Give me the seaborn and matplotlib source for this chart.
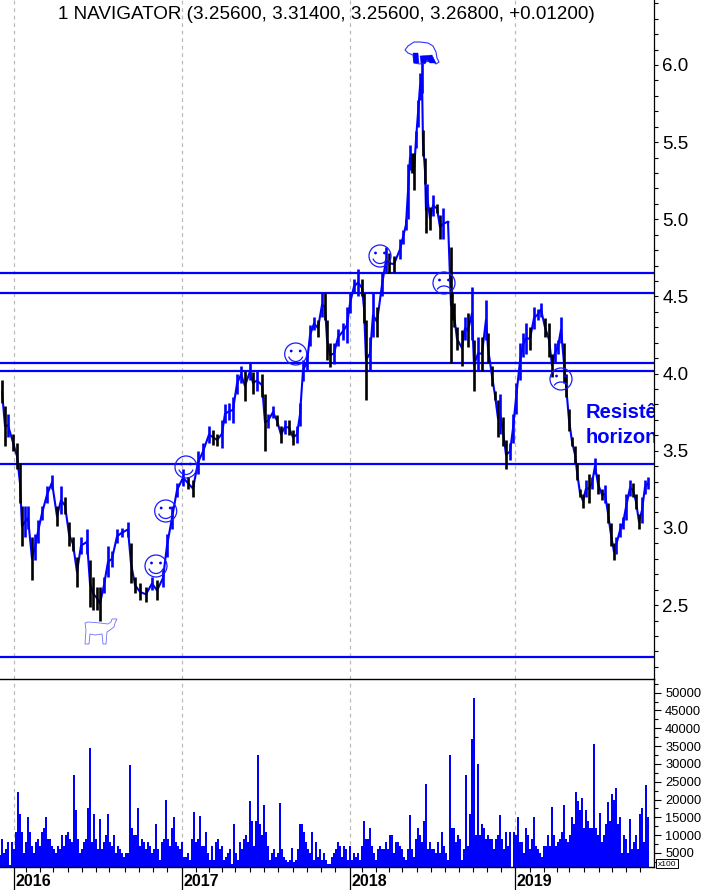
import matplotlib
matplotlib.use('Agg')
import matplotlib.pyplot as plt
import numpy as np
import pandas as pd
import seaborn as sns
from matplotlib.patches import Arc, Circle, Polygon, Rectangle
from matplotlib.transforms import Affine2D

# price bars, session = column of the chart's time scale
session = [2, 5, 8, 13, 17, 20, 22, 25, 28, 32, 35, 38, 42, 47, 52, 57, 61, 65, 69, 73,
           77, 81, 87, 90, 93, 97, 100, 104, 108, 112, 117, 122, 128, 131, 135, 140, 146, 152, 157, 163,
           167, 172, 177, 183, 188, 193, 198, 203, 209, 213, 217, 222, 225, 229, 233, 237, 241, 245, 250, 253,
           257, 262, 265, 268, 273, 277, 281, 285, 289, 293, 297, 300, 303, 307, 310, 314, 318, 322, 325, 327,
           330, 334, 338, 343, 347, 350, 354, 358, 362, 364, 366, 370, 373, 377, 382, 386, 389, 394, 400, 403,
           406, 408, 410, 412, 414, 416, 418, 420, 422, 423, 425, 426, 427, 430, 433, 437, 440, 443, 448, 451,
           452, 454, 457, 462, 465, 468, 472, 474, 478, 482, 486, 488, 492, 495, 498, 500, 503, 506, 510, 513,
           516, 520, 523, 526, 530, 534, 538, 541, 545, 549, 552, 555, 558, 561, 564, 566, 569, 572, 575, 577,
           580, 583, 586, 589, 592, 595, 598, 602, 605, 608, 611, 614, 616, 620, 623, 626, 630, 633, 636, 639,
           642, 645, 648]
price_high = [3.96, 3.79, 3.74, 3.61, 3.55, 3.42, 3.14, 3.14, 3.14, 2.94, 2.96, 3.05, 3.14, 3.27, 3.34, 3.14, 3.27, 3.20, 3.04, 2.94,
              2.81, 2.94, 2.99, 2.79, 2.68, 2.62, 2.62, 2.68, 2.88, 2.85, 2.99, 3.00, 3.04, 2.90, 2.68, 2.64, 2.62, 2.68, 2.66, 2.73,
              2.96, 3.14, 3.29, 3.38, 3.33, 3.31, 3.50, 3.55, 3.66, 3.635, 3.61, 3.70, 3.80, 3.81, 3.85, 4.00, 4.05, 4.02, 4.07, 4.01,
              4.02, 4.00, 3.87, 3.74, 3.79, 3.73, 3.66, 3.70, 3.70, 3.635, 3.66, 3.81, 4.09, 4.13, 4.315, 4.37, 4.35, 4.52, 4.52, 4.35,
              4.20, 4.20, 4.29, 4.33, 4.43, 4.52, 4.61, 4.68, 4.61, 4.52, 4.35, 4.24, 4.52, 4.43, 4.65, 4.82, 4.78, 4.76, 4.87, 4.93,
              5.00, 5.36, 5.48, 5.43, 5.43, 5.57, 5.77, 5.95, 6.01, 5.58, 5.40, 5.21, 5.23, 5.08, 5.16, 5.10, 5.03, 5.07, 4.99, 4.82,
              4.52, 4.46, 4.30, 4.28, 4.37, 4.39, 4.56, 4.22, 4.24, 4.24, 4.48, 4.26, 4.05, 3.89, 3.83, 3.87, 3.72, 3.57, 3.55, 3.74,
              3.94, 4.20, 4.26, 4.33, 4.30, 4.43, 4.42, 4.46, 4.36, 4.33, 4.13, 4.20, 4.22, 4.37, 4.20, 4.00, 3.77, 3.59, 3.53, 3.42,
              3.25, 3.22, 3.31, 3.35, 3.33, 3.45, 3.35, 3.25, 3.28, 3.16, 3.03, 2.90, 2.94, 3.03, 3.07, 3.22, 3.31, 3.29, 3.22, 3.09,
              3.20, 3.31, 3.33]
price_low = [3.81, 3.53, 3.59, 3.50, 3.38, 3.16, 2.88, 2.94, 2.99, 2.66, 2.79, 2.90, 3.05, 3.16, 3.25, 3.01, 3.09, 3.09, 2.88, 2.85,
             2.62, 2.83, 2.83, 2.49, 2.47, 2.47, 2.40, 2.58, 2.68, 2.75, 2.90, 2.94, 2.94, 2.64, 2.58, 2.53, 2.52, 2.60, 2.53, 2.62,
             2.81, 2.99, 3.20, 3.27, 3.25, 3.20, 3.35, 3.44, 3.55, 3.54, 3.53, 3.52, 3.68, 3.70, 3.68, 3.87, 3.94, 3.82, 3.96, 3.87,
             3.89, 3.85, 3.50, 3.65, 3.71, 3.66, 3.55, 3.61, 3.60, 3.54, 3.55, 3.66, 3.95, 4.02, 4.18, 4.28, 4.24, 4.37, 4.35, 4.09,
             4.04, 4.06, 4.18, 4.22, 4.20, 4.39, 4.52, 4.50, 4.50, 4.33, 3.83, 4.02, 4.24, 4.24, 4.50, 4.65, 4.65, 4.66, 4.74, 4.84,
             4.93, 5.00, 5.32, 5.30, 5.19, 5.46, 5.60, 5.77, 5.82, 5.41, 5.23, 4.91, 5.08, 4.93, 5.02, 5.04, 4.87, 4.87, 4.98, 4.07,
             4.35, 4.30, 4.15, 4.05, 4.22, 4.17, 4.22, 3.89, 4.02, 4.02, 4.22, 4.07, 3.92, 3.83, 3.59, 3.61, 3.53, 3.38, 3.44, 3.55,
             3.74, 3.96, 4.11, 4.13, 4.15, 4.29, 4.35, 4.37, 4.24, 4.11, 3.98, 4.07, 4.13, 4.20, 3.94, 3.85, 3.63, 3.53, 3.42, 3.31,
             3.20, 3.13, 3.20, 3.16, 3.25, 3.35, 3.22, 3.18, 3.16, 3.03, 2.88, 2.79, 2.83, 2.94, 2.99, 3.05, 3.21, 3.20, 3.12, 2.99,
             3.03, 3.22, 3.25]

# volume in thousands, one value per two columns
volume = [4.5, 9, 5, 6, 8, 1.5, 8, 6, 11, 22, 16, 11, 5, 8, 15, 11, 7, 5, 8, 9, 7, 11, 12, 15, 9,
          9, 7, 6, 5, 7, 6, 10, 7, 10, 11, 9, 8, 27, 17, 9, 5, 6, 8, 9, 17.5, 34.4, 8, 16, 9, 6,
          14.5, 6, 8, 10, 16, 8, 7, 10, 5, 7, 6, 5, 4, 5, 5, 29.7, 12, 10, 10, 17.5, 7, 9, 8, 6, 8,
          7, 5, 6, 13, 6, 3, 8, 9, 20, 9, 7, 12, 15, 8, 7, 6, 8, 4, 4, 5, 3, 9, 16.5, 8, 9,
          15.5, 7, 7, 11, 5, 3, 7, 3, 8, 9, 6, 7, 3, 4, 5, 6, 2, 13, 5, 3, 8, 6, 9, 10, 8,
          19.5, 14, 7, 14, 32.4, 13, 10, 18.5, 11, 7, 3, 5, 6, 4, 5, 19, 6, 4, 3, 2.5, 3, 6.5, 2.5, 3, 6,
          13, 13, 11, 8, 6, 5, 11, 3, 8, 4, 6, 3, 5, 3, 2, 2, 4, 5, 6, 8, 7, 4, 7, 6, 3,
          7, 3, 5, 4, 5, 3, 7, 14, 9, 9, 12, 7, 5, 3, 6, 7, 6, 6, 8, 6, 10, 10, 5, 8, 8,
          7, 6, 4, 3, 6, 15.8, 6, 4, 9, 12, 10, 8, 14, 24.5, 6, 8, 6, 6, 5, 8, 5, 11, 7, 5, 3,
          32.4, 12, 12, 8, 10, 9, 3, 6, 27, 7, 16, 37, 48.6, 10, 30, 10, 13, 12, 9, 10, 9, 9, 6, 9, 10,
          15.8, 9, 6, 11, 7, 11, 1, 11, 10, 15, 8, 8, 5, 12, 10, 6, 9, 15, 7, 6, 5, 4, 7, 7, 10,
          7, 17.8, 10, 7, 8, 9, 11, 18.5, 9, 8, 10, 15, 13, 22, 19.5, 17, 20.3, 12, 17, 14, 12, 12, 35.5, 12, 10,
          16.3, 8, 10, 13, 19.3, 14, 21.5, 20, 23.2, 13, 15, 5, 10, 9, 5, 14.5, 6, 8, 10, 6, 16, 17.5, 8, 24.2, 15]

levels = [4.655, 4.525, 4.07, 4.015, 3.415, 2.165]
year_labels = ['2016', '2017', '2018', '2019']
year_ticks = [13.5, 181.5, 349.5, 515]
month_ticks = [26, 40, 53, 68, 82, 96, 109, 125, 139, 153, 167,
               196, 209, 222, 235, 250, 264, 278, 293, 307, 321, 335,
               362, 376, 389, 402, 417, 431, 445, 459, 473, 487, 501,
               530, 544, 557, 569, 584, 599, 612, 626, 640]
smile_at = [(156, 566), (165.7, 511), (186, 467), (295.7, 354), (380, 256)]
frown_at = [(444, 283), (561, 379)]

BLUE = '#0000ff'

sns.set_theme(style='white')
plt.rcParams['font.family'] = ['Liberation Sans', 'DejaVu Sans']

fig = plt.figure(figsize=(7.02, 8.90), dpi=100)
ax = fig.add_axes([0, 211 / 890, 654 / 702, 679 / 890])
ax2 = fig.add_axes([0, 23 / 890, 654 / 702, 188 / 890])

df = pd.DataFrame({'session': session, 'high': price_high, 'low': price_low})
df['mid'] = (df['high'] + df['low']) / 2
df['up'] = df['mid'].diff().fillna(-1) > 0

# price panel
for y in levels:
    ax.axhline(y, color=BLUE, lw=1.6, zorder=3)
for x in year_ticks:
    ax.axvline(x, color='#bbbbbb', lw=0.9, ls=(0, (3, 3)), zorder=0)
    ax2.axvline(x, color='#bbbbbb', lw=0.9, ls=(0, (3, 3)), zorder=0)

sns.lineplot(data=df, x='session', y='mid', color=BLUE, lw=1.5, errorbar=None, ax=ax, zorder=4)
ax.vlines(df['session'], df['low'], df['high'],
          colors=[BLUE if u else 'black' for u in df['up']], lw=1.9, zorder=5)

ax.set_xlim(0, 654)
ax.set_ylim(2.021, 6.421)
ax.set_xlabel('')
ax.set_ylabel('')
ax.set_xticks([])
ax.yaxis.tick_right()
ax.set_yticks(np.arange(2.5, 6.01, 0.5))
ax.set_yticklabels(['2.5', '3.0', '3.5', '4.0', '4.5', '5.0', '5.5', '6.0'], fontsize=13.5, color='black')
ax.set_yticks(np.arange(2.1, 6.41, 0.1), minor=True)
ax.tick_params(axis='y', which='both', right=True, length=3, width=0.8, color='black', pad=3)
for s in ['left', 'top', 'bottom']:
    ax.spines[s].set_visible(False)
ax.spines['right'].set_color('black')
ax.spines['right'].set_linewidth(0.9)

ax.text(326, 6.325, '1 NAVIGATOR (3.25600, 3.31400, 3.25600, 3.26800, +0.01200)',
        ha='center', va='center', fontsize=13.6, color='black')
ax.text(586, 3.745, 'Resistê', color=BLUE, fontsize=14.5, fontweight='bold',
        ha='left', va='center', clip_on=True, zorder=6)
ax.text(586, 3.583, 'horizon', color=BLUE, fontsize=14.5, fontweight='bold',
        ha='left', va='center', clip_on=True, zorder=6)

# volume panel
sessions_vol = np.arange(0, 2 * len(volume), 2)
sns.barplot(x=sessions_vol, y=np.array(volume) * 1000, native_scale=True, color=BLUE,
            saturation=1, width=1.0, linewidth=0, ax=ax2, zorder=2)
ax2.set_xlim(0, 654)
ax2.set_ylim(1070, 53840)
ax2.set_xlabel('')
ax2.set_ylabel('')
ax2.yaxis.tick_right()
ax2.set_yticks(np.arange(5000, 50001, 5000))
ax2.set_yticklabels([str(v) for v in range(5000, 50001, 5000)], fontsize=9.3, color='black')
ax2.set_yticks(np.arange(2500, 53000, 2500), minor=True)
ax2.tick_params(axis='y', which='major', right=True, length=5, width=0.8, color='black', pad=3)
ax2.tick_params(axis='y', which='minor', right=True, length=3, width=0.8, color='black')
ax2.set_xticks(year_ticks)
ax2.set_xticklabels([])
ax2.set_xticks(month_ticks, minor=True)
ax2.tick_params(axis='x', which='major', bottom=True, length=16.5, width=0.9, color='black')
ax2.tick_params(axis='x', which='minor', bottom=True, length=3.5, width=0.8, color='black')
for s in ['left']:
    ax2.spines[s].set_visible(False)
for s in ['right', 'top', 'bottom']:
    ax2.spines[s].set_color('black')
    ax2.spines[s].set_linewidth(1.0)

# reference pixel coordinates for the drawn stickers
px = Affine2D().scale(1 / 702, -1 / 890).translate(0, 1) + fig.transFigure

for lab, x in zip(year_labels, year_ticks):
    fig.text((x + 1.5) / 702, 1 - 882 / 890, lab, fontsize=11.5, fontweight='bold',
             color='black', ha='left', va='center')


def add(patch):
    patch.set_transform(px)
    patch.set_clip_on(False)
    patch.set_zorder(8)
    fig.add_artist(patch)


add(Rectangle((656, 859), 22, 9, fc='white', ec='black', lw=0.7))
fig.text(667 / 702, 1 - 864 / 890, 'x100', fontsize=6, color='black', ha='center', va='center', zorder=9)


def face(cx, cy, happy=True):
    add(Circle((cx, cy), 11, fill=False, ec='#1a1aff', lw=0.9))
    add(Circle((cx - 4.5, cy - 3), 1.4, fc=BLUE, ec=BLUE, lw=0))
    add(Circle((cx + 4.5, cy - 3), 1.4, fc=BLUE, ec=BLUE, lw=0))
    if happy:
        add(Arc((cx, cy), 15, 15, theta1=20, theta2=160, ec='#1a1aff', lw=0.9))
    else:
        add(Arc((cx, cy + 9), 15, 12, theta1=200, theta2=340, ec='#1a1aff', lw=0.9))


for cx, cy in smile_at:
    face(cx, cy, True)
for cx, cy in frown_at:
    face(cx, cy, False)

# bear at the top, bull at the bottom
bear = [(405, 50), (408, 46), (411, 44), (414, 42), (420, 42), (428, 43), (433, 46), (436, 52), (437, 58),
        (439, 62), (436, 64), (432, 60), (426, 62), (420, 64), (414, 63), (413, 55), (408, 53)]
add(Polygon(bear, closed=True, fc='white', ec='#3030ff', lw=0.8))
add(Polygon([(413, 53), (418, 53), (419, 63), (414, 63)], closed=True, fc=BLUE, ec=BLUE, lw=0.3))
add(Polygon([(420, 56), (432, 55), (436, 63), (430, 63), (427, 60), (425, 64), (421, 63)], closed=True,
            fc=BLUE, ec=BLUE, lw=0.3))
bull = [(85, 623), (88, 622), (100, 623), (108, 624), (111, 622), (112, 619), (117, 619), (115, 623),
        (114, 627), (110, 630), (107, 632), (106, 644), (103, 644), (102, 634), (95, 635), (90, 634),
        (89, 644), (85, 644), (86, 630)]
add(Polygon(bull, closed=True, fc='white', ec='#6f6fff', lw=0.6))

fig.savefig('out.png', dpi=100, facecolor='white')
